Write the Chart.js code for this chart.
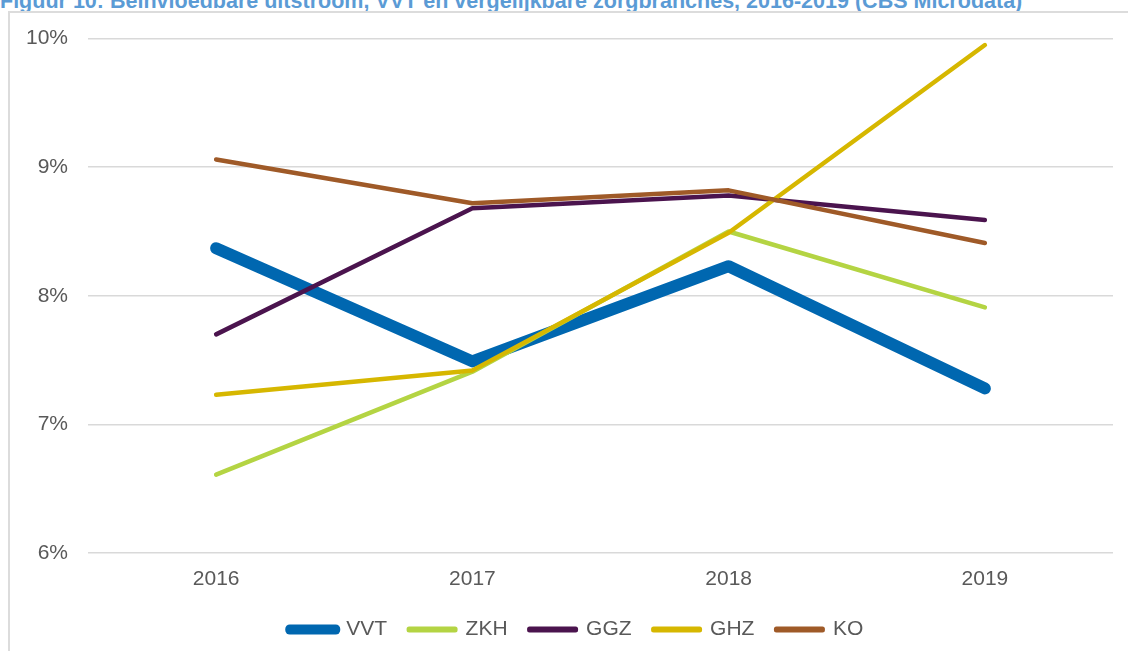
<!DOCTYPE html>
<html>
<head>
<meta charset="utf-8">
<script src="https://cdn.jsdelivr.net/npm/chart.js@4"></script>
<style>
  html, body { margin: 0; padding: 0; background: #fff; overflow: hidden; width: 1128px; height: 651px; }
  #title {
    position: absolute; left: 0; top: -9px; white-space: nowrap;
    font: bold 17px "Liberation Sans", Arial, sans-serif; color: #5b9bd5; line-height: 1;
  }
  #frame {
    position: absolute; left: 8px; top: 11px; width: 1140px; height: 700px;
    border: 2px solid #dcdcdc; box-sizing: border-box;
  }
  #wrap { position: absolute; left: 9px; top: 6px; width: 1135px; height: 686px; }
</style>
</head>
<body>
<div id="title">Figuur 10: Beïnvloedbare uitstroom, VVT en vergelijkbare zorgbranches, 2016-2019 (CBS Microdata)</div>
<div id="frame"></div>
<div id="wrap"><canvas id="lineChart"></canvas></div>
<script>
// Data
const years = ["2016", "2017", "2018", "2019"];
const vvt = [8.37, 7.49, 8.23, 7.28];
const zkh = [6.61, 7.41, 8.50, 7.91];
const ggz = [7.70, 8.68, 8.78, 8.59];
const ghz = [7.23, 7.42, 8.49, 9.95];
const ko = [9.06, 8.72, 8.82, 8.41];
const yTicks = [6, 7, 8, 9, 10];

// stretch title so it spans the same width as the reference
const title = document.getElementById("title");
title.style.fontSize = (17 * 1023 / title.offsetWidth) + "px";

const font = { family: "'Liberation Sans', Arial, sans-serif", size: 21 };

function series(label, data, color, width, order) {
  return {
    label, data, order,
    borderColor: color,
    backgroundColor: color,
    borderWidth: width,
    borderCapStyle: "round",
    borderJoinStyle: "round",
    pointRadius: 0,
    pointHoverRadius: 0,
    tension: 0,
  };
}

// Legend is centred on the whole frame, not on the plot - nudge it right
const legendShift = {
  id: "legendShift",
  afterLayout(chart) {
    chart.legend.left += 15.5;
    chart.legend.right += 15.5;
  },
};

const ctx = document.getElementById("lineChart").getContext("2d");

new Chart(ctx, {
  type: "line",
  data: {
    labels: years,
    datasets: [
      series("VVT", vvt, "#0067b0", 12, 5),
      series("ZKH", zkh, "#b4d443", 4.5, 4),
      series("GGZ", ggz, "#4b144e", 4.5, 3),
      series("GHZ", ghz, "#d6b700", 4.5, 2),
      series("KO", ko, "#9f5a28", 4.5, 1),
    ],
  },
  options: {
    responsive: true,
    maintainAspectRatio: false,
    animation: false,
    layout: { padding: { top: 0, right: 31, bottom: 42, left: 0 } },
    scales: {
      x: {
        offset: true,
        grid: { display: false },
        border: { display: false },
        ticks: { color: "#595959", font, padding: 6 },
        afterFit: (scale) => { scale.height = 44; },
      },
      y: {
        min: 6,
        max: 10,
        afterBuildTicks: (scale) => { scale.ticks = yTicks.map((v) => ({ value: v })); },
        grid: { color: "#d9d9d9", lineWidth: 1.5, drawTicks: false },
        border: { display: false },
        ticks: {
          color: "#595959", font, padding: 20,
          callback: (value) => value + "%",
        },
        afterFit: (scale) => { scale.width = 79; },
      },
    },
    plugins: {
      legend: {
        position: "bottom",
        labels: {
          color: "#595959",
          font,
          boxWidth: 46,
          boxHeight: 1,
          padding: 22,
          sort: (a, b) => a.datasetIndex - b.datasetIndex,
          generateLabels: (chart) => {
            const items = Chart.defaults.plugins.legend.labels.generateLabels(chart);
            items.forEach((item) => {
              item.lineWidth = item.text === "VVT" ? 9 : 5;
              item.lineCap = "round";
            });
            return items;
          },
        },
      },
      tooltip: { enabled: false },
    },
  },
  plugins: [legendShift],
});
</script>
</body>
</html>
